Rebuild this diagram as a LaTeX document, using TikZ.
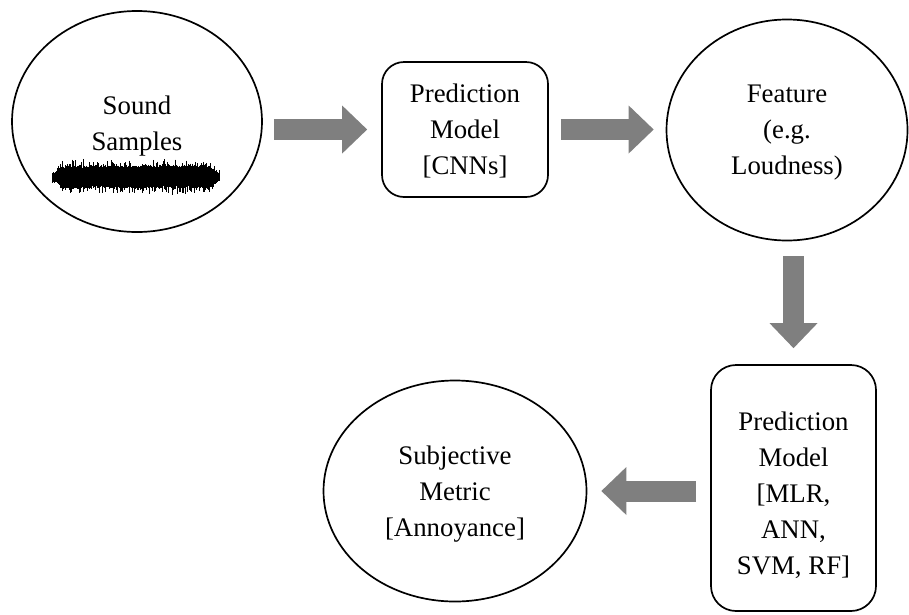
\documentclass[tikz,border=0pt]{standalone}
\usepackage{fontspec}
\setmainfont{Liberation Serif}
\usetikzlibrary{shapes.geometric,arrows.meta}

\definecolor{arrowgray}{HTML}{7F7F7F}

\tikzset{
  txt/.style={align=center, font=\fontsize{26.8}{36}\selectfont, inner sep=0pt,
    text depth=0pt},
  oval/.style={ellipse, draw, line width=1.7pt, inner sep=0pt, txt},
  modelbox/.style={draw, line width=1.7pt, rounded corners=22pt, inner sep=0pt, txt},
  bigarrow/.style={arrowgray, line width=21pt,
    -{Triangle[length=25pt, width=48pt, line width=0pt]}},
  wave/.style={line width=0.6pt, black}
}

\begin{document}
\begin{tikzpicture}[x=1pt, y=-1pt]
  \useasboundingbox (0,0) rectangle (909,614);

  % stages of the pipeline
  \node[oval, minimum width=250pt, minimum height=221pt] (snd) at (137,121.5) {};
  \node[txt] (sndlbl) at (137,123) {Sound\\Samples};

  \node[modelbox, minimum width=166pt, minimum height=135pt] (m1) at (465,129.5)
    {Prediction\\Model\\{}[CNNs]};

  \node[oval, minimum width=241pt, minimum height=221pt] (feat) at (787,130)
    {Feature\\(e.g.\\Loudness)};

  \node[modelbox, rounded corners=25pt, minimum width=165pt, minimum height=246pt,
    text height=172pt] (m2) at (793.5,488)
    {Prediction\\Model\\{}[MLR,\\ANN,\\SVM, RF]};

  \node[oval, minimum width=263pt, minimum height=221pt] (met) at (455,491)
    {Subjective\\Metric\\{}[Annoyance]};

  % noisy waveform inside the sound-samples oval
  \pgfmathsetseed{42}
  \foreach \i in {0,...,335}{
    \pgfmathsetmacro\wx{52+0.5*\i}
    \pgfmathsetmacro\env{sqrt(max(0.15,min(1,min(\i,335-\i)/26)))}
    \pgfmathsetmacro\up{\env*(8.5+3*rnd+7*rnd^5)}
    \pgfmathsetmacro\dn{\env*(8.5+3*rnd+7*rnd^5)}
    \draw[wave] (\wx,177-\up) -- (\wx,177+\dn);
  }

  % block arrows between the stages
  \draw[bigarrow, shorten <=11pt, shorten >=14pt] (snd.east |- m1.west) -- (m1.west);
  \draw[bigarrow, shorten <=12pt, shorten >=12pt] (m1.east) -- (feat.west |- m1.east);
  \draw[bigarrow, shorten <=15pt, shorten >=16pt] (m2.north |- feat.south) -- (m2.north);
  \draw[bigarrow, shorten <=14pt, shorten >=14pt] (m2.west |- met.east) -- (met.east);
\end{tikzpicture}
\end{document}
